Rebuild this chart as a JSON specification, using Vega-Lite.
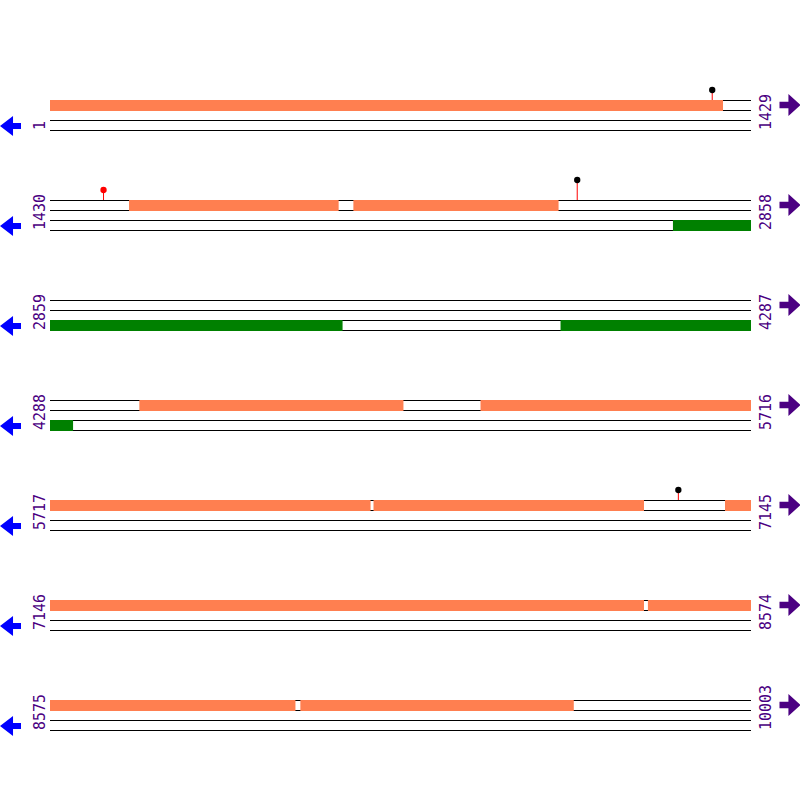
{
  "$schema": "https://vega.github.io/schema/vega-lite/v6.json",
  "padding": {"left": 0, "top": 70, "right": 0, "bottom": 0},
  "background": "white",
  "bounds": "flush",
  "data": {"values": [
    {"row": 1, "kind": "span", "start": 1, "end": 1429},
    {"row": 2, "kind": "span", "start": 1430, "end": 2858},
    {"row": 3, "kind": "span", "start": 2859, "end": 4287},
    {"row": 4, "kind": "span", "start": 4288, "end": 5716},
    {"row": 5, "kind": "span", "start": 5717, "end": 7145},
    {"row": 6, "kind": "span", "start": 7146, "end": 8574},
    {"row": 7, "kind": "span", "start": 8575, "end": 10003},
    {"row": 1, "kind": "fwd", "start": 1, "end": 1372},
    {"row": 2, "kind": "fwd", "start": 1591, "end": 2018},
    {"row": 2, "kind": "fwd", "start": 2048, "end": 2466},
    {"row": 4, "kind": "fwd", "start": 4470, "end": 5008},
    {"row": 4, "kind": "fwd", "start": 5165, "end": 5716},
    {"row": 5, "kind": "fwd", "start": 5717, "end": 6370},
    {"row": 5, "kind": "fwd", "start": 6376, "end": 6927},
    {"row": 5, "kind": "fwd", "start": 7092, "end": 7145},
    {"row": 6, "kind": "fwd", "start": 7146, "end": 8356},
    {"row": 6, "kind": "fwd", "start": 8364, "end": 8574},
    {"row": 7, "kind": "fwd", "start": 8575, "end": 9075},
    {"row": 7, "kind": "fwd", "start": 9085, "end": 9642},
    {"row": 2, "kind": "rev", "start": 2699, "end": 2858},
    {"row": 3, "kind": "rev", "start": 2859, "end": 3455},
    {"row": 3, "kind": "rev", "start": 3899, "end": 4287},
    {"row": 4, "kind": "rev", "start": 4288, "end": 4335},
    {"row": 1, "kind": "snp", "start": 1349, "height": 1, "type": "A"},
    {"row": 2, "kind": "snp", "start": 1538, "height": 1, "type": "B"},
    {"row": 2, "kind": "snp", "start": 2503, "height": 2, "type": "A"},
    {"row": 5, "kind": "snp", "start": 6996, "height": 1, "type": "A"}
  ]},
  "facet": {"row": {"field": "row", "type": "ordinal", "header": {"labels": false, "title": null}}},
  "spacing": 40,
  "spec": {
    "width": 701,
    "height": 60,
    "layer": [
      {"transform": [{"filter": "datum.kind === 'span'"}], "mark": {"type": "rule", "color": "black", "strokeWidth": 1, "yOffset": 0.5},
       "encoding": {"x": {"field": "start", "type": "quantitative", "scale": {"zero": false, "nice": false}, "axis": null}, "x2": {"field": "end"}, "y": {"datum": 0, "type": "quantitative", "scale": {"domain": [-3, 3]}, "axis": null}}},
      {"transform": [{"filter": "datum.kind === 'span'"}], "mark": {"type": "rule", "color": "black", "strokeWidth": 1, "yOffset": 0.5},
       "encoding": {"x": {"field": "start", "type": "quantitative"}, "x2": {"field": "end"}, "y": {"datum": -1, "type": "quantitative"}}},
      {"transform": [{"filter": "datum.kind === 'span'"}], "mark": {"type": "rule", "color": "black", "strokeWidth": 1, "yOffset": 0.5},
       "encoding": {"x": {"field": "start", "type": "quantitative"}, "x2": {"field": "end"}, "y": {"datum": -2, "type": "quantitative"}}},
      {"transform": [{"filter": "datum.kind === 'span'"}], "mark": {"type": "rule", "color": "black", "strokeWidth": 1, "yOffset": 0.5},
       "encoding": {"x": {"field": "start", "type": "quantitative"}, "x2": {"field": "end"}, "y": {"datum": -3, "type": "quantitative"}}},
      {"transform": [{"filter": "datum.kind === 'fwd'"}], "mark": {"type": "rect", "color": "#FF7F50", "y2Offset": 1},
       "encoding": {"x": {"field": "start", "type": "quantitative"}, "x2": {"field": "end"}, "y": {"datum": 0, "type": "quantitative"}, "y2": {"datum": -1}}},
      {"transform": [{"filter": "datum.kind === 'rev'"}], "mark": {"type": "rect", "color": "#008000", "y2Offset": 1},
       "encoding": {"x": {"field": "start", "type": "quantitative"}, "x2": {"field": "end"}, "y": {"datum": -2, "type": "quantitative"}, "y2": {"datum": -3}}},
      {"transform": [{"filter": "datum.kind === 'snp'"}], "mark": {"type": "rule", "color": "red", "strokeWidth": 1, "xOffset": 0.5},
       "encoding": {"x": {"field": "start", "type": "quantitative"}, "y": {"field": "height", "type": "quantitative"}, "y2": {"datum": 0}}},
      {"transform": [{"filter": "datum.kind === 'snp'"}], "mark": {"type": "point", "filled": true, "opacity": 1, "size": 40, "xOffset": 0.5},
       "encoding": {"x": {"field": "start", "type": "quantitative"}, "y": {"field": "height", "type": "quantitative"},
                    "color": {"field": "type", "type": "nominal", "scale": {"domain": ["A", "B"], "range": ["black", "red"]}, "legend": null}}},
      {"transform": [{"filter": "datum.kind === 'span'"}], "mark": {"type": "text", "angle": 270, "align": "left", "baseline": "alphabetic", "dy": -5, "font": "DejaVu Sans Mono", "fontWeight": "normal", "fontSize": 15, "color": "#4B0082"},
       "encoding": {"x": {"field": "start", "type": "quantitative"}, "y": {"datum": -3, "type": "quantitative"}, "text": {"field": "start", "type": "nominal"}}},
      {"transform": [{"filter": "datum.kind === 'span'"}], "mark": {"type": "text", "angle": 270, "align": "left", "baseline": "alphabetic", "dy": 20, "font": "DejaVu Sans Mono", "fontWeight": "normal", "fontSize": 15, "color": "#4B0082"},
       "encoding": {"x": {"field": "end", "type": "quantitative"}, "y": {"datum": -3, "type": "quantitative"}, "text": {"field": "end", "type": "nominal"}}},
      {"transform": [{"filter": "datum.kind === 'span'"}], "mark": {"type": "point", "filled": true, "opacity": 1, "size": 441, "xOffset": -39.5, "color": "#0000FF",
         "shape": "M -1 0 L 0.24 -0.95 L 0.24 -0.29 L 1 -0.29 L 1 0.29 L 0.24 0.29 L 0.24 0.95 Z"},
       "encoding": {"x": {"field": "start", "type": "quantitative"}, "y": {"datum": -2.6, "type": "quantitative"}}},
      {"transform": [{"filter": "datum.kind === 'span'"}], "mark": {"type": "point", "filled": true, "opacity": 1, "size": 441, "xOffset": 39, "color": "#4B0082",
         "shape": "M 1 0 L -0.15 -1.05 L -0.15 -0.32 L -1 -0.32 L -1 0.32 L -0.15 0.32 L -0.15 1.05 Z"},
       "encoding": {"x": {"field": "end", "type": "quantitative"}, "y": {"datum": -0.5, "type": "quantitative"}}}
    ]
  },
  "resolve": {"scale": {"x": "independent"}},
  "config": {"view": {"stroke": null}}
}
